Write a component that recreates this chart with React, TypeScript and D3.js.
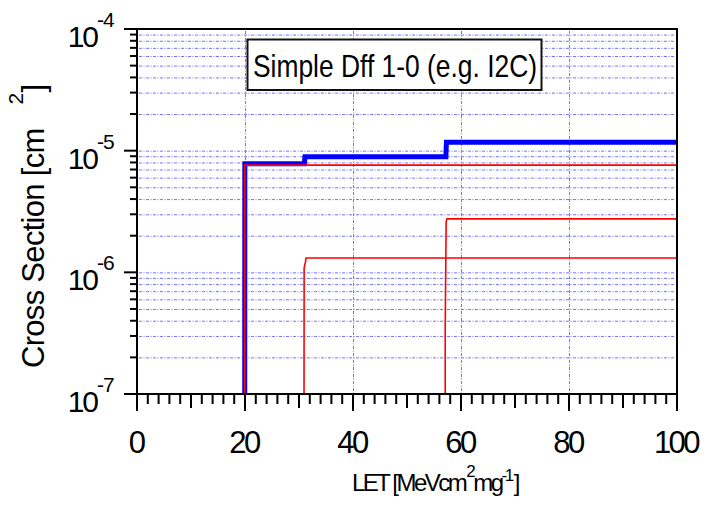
import React from 'react';
import * as d3 from 'd3';

// values
const letTicks = [0, 20, 40, 60, 80, 100];
const decades = [-7, -6, -5, -4];

const blueLET = [19.95, 19.97, 31.0, 31.1, 57.2, 57.3, 100];
const blueSigma = [1e-7, 7.8e-6, 7.8e-6, 8.9e-6, 8.9e-6, 1.17e-5, 1.17e-5];

const red1LET = [19.93, 19.95, 100];
const red1Sigma = [1e-7, 7.6e-6, 7.6e-6];

const red2LET = [30.93, 30.95, 31.2, 31.3, 100];
const red2Sigma = [1e-7, 1.09e-6, 1.22e-6, 1.31e-6, 1.31e-6];

const red3LET = [57.08, 57.08, 57.25, 57.4, 100];
const red3Sigma = [1e-7, 3.4e-7, 2.6e-6, 2.75e-6, 2.75e-6];

const legendLabel = 'Simple Dff 1-0 (e.g. I2C)';

const W = 707;
const H = 511;
const left = 137;
const right = 677;
const top = 29;
const bottom = 394;

const font = '"Liberation Sans", Arial, sans-serif';

const App = () => {
  const x = d3.scaleLinear().domain([0, 100]).range([left, right]);
  const y = d3.scaleLog().domain([1e-7, 1e-4]).range([bottom, top]);

  const line = d3
    .line<[number, number]>()
    .x((d) => x(d[0]))
    .y((d) => y(d[1]));

  const pts = (a: number[], b: number[]) => a.map((v, i) => [v, b[i]] as [number, number]);

  // minor values 2..9 of each decade, plus the decades themselves
  const gridY: number[] = [];
  decades.slice(0, 3).forEach((e) => {
    for (let m = 1; m <= 9; m++) gridY.push(m * Math.pow(10, e));
  });
  const minorY = gridY.filter((v, i) => i % 9 !== 0);

  const xTicks = d3.range(0, 101, 2);

  return (
    <svg width={W} height={H} style={{ position: 'absolute', left: 0, top: 0 }}>
      <rect width={W} height={H} fill="#fff" />
      <defs>
        <clipPath id="plot">
          <rect x={left} y={top - 3} width={right - left} height={bottom - top + 6} />
        </clipPath>
      </defs>

      {/* grid */}
      <g stroke="#5a5aff" strokeWidth={1} strokeDasharray="3 1.5 1 1.5" opacity={0.85}>
        {gridY.map((v, i) => (
          <line key={'gy' + i} x1={left + 2} x2={right - 2} y1={y(v) + 0.5} y2={y(v) + 0.5} />
        ))}
        {letTicks.slice(1, -1).map((v) => (
          <line key={'gx' + v} x1={x(v) + 0.5} x2={x(v) + 0.5} y1={top + 2} y2={bottom} />
        ))}
      </g>

      {/* legend box */}
      <rect x={247.5} y={39.5} width={294} height={50.5} fill="#fff" stroke="#111" strokeWidth={2} />
      <text
        x={253}
        y={77}
        fontFamily={font}
        fontSize={32}
        textLength={284}
        lengthAdjust="spacingAndGlyphs"
      >
        {legendLabel}
      </text>

      {/* series */}
      <g clipPath="url(#plot)" fill="none">
        <path d={line(pts(blueLET, blueSigma)) || ''} stroke="#0000ff" strokeWidth={5} />
        <path d={line(pts(red1LET, red1Sigma)) || ''} stroke="#ff0000" strokeWidth={1.6} />
        <path d={line(pts(red2LET, red2Sigma)) || ''} stroke="#ff0000" strokeWidth={1.6} />
        <path d={line(pts(red3LET, red3Sigma)) || ''} stroke="#ff0000" strokeWidth={1.6} />
      </g>

      {/* frame */}
      <rect x={left} y={top} width={right - left} height={bottom - top} fill="none" stroke="#000" strokeWidth={2} />

      {/* ticks */}
      <g stroke="#000" strokeWidth={2}>
        {xTicks.map((v) => {
          const len = v % 20 === 0 ? 17 : v % 10 === 0 ? 14 : 10;
          return <line key={'xt' + v} x1={x(v)} x2={x(v)} y1={bottom} y2={bottom + len} />;
        })}
        {decades.map((e) => (
          <line key={'yt' + e} x1={left - 13} x2={left} y1={y(Math.pow(10, e))} y2={y(Math.pow(10, e))} />
        ))}
        {minorY.map((v, i) => (
          <line key={'ym' + i} x1={left - 7} x2={left} y1={y(v)} y2={y(v)} />
        ))}
      </g>

      {/* x tick labels */}
      <g fontFamily={font} fontSize={31} letterSpacing={-2.5} textAnchor="middle">
        {letTicks.map((v) => (
          <text key={'xl' + v} x={x(v) - 1} y={453}>
            {v}
          </text>
        ))}
      </g>

      {/* y tick labels */}
      <g fontFamily={font}>
        {decades.map((e) => {
          const yy = y(Math.pow(10, e));
          return (
            <g key={'yl' + e}>
              <text x={97} y={yy + 18} fontSize={30} letterSpacing={-2} textAnchor="end">
                10
              </text>
              <text x={97} y={yy - 2} fontSize={21} letterSpacing={-1}>
                {e}
              </text>
            </g>
          );
        })}
      </g>

      {/* axis titles */}
      <text x={352} y={491} fontFamily={font} fontSize={24} letterSpacing={-2.5}>
        LET [MeVcm
        <tspan fontSize={17} dx={1} dy={-14}>2</tspan>
        <tspan dy={14}>mg</tspan>
        <tspan fontSize={17} dy={-10}>-1</tspan>
        <tspan dx={2} dy={10}>]</tspan>
      </text>
      <text
        transform="translate(44,368) rotate(-90)"
        fontFamily={font}
        fontSize={31}
        letterSpacing={-0.7}
      >
        Cross Section [cm
        <tspan fontSize={21} dx={24} dy={-21}>2</tspan>
        <tspan dx={1} dy={21}>]</tspan>
      </text>
    </svg>
  );
};

export default App;
